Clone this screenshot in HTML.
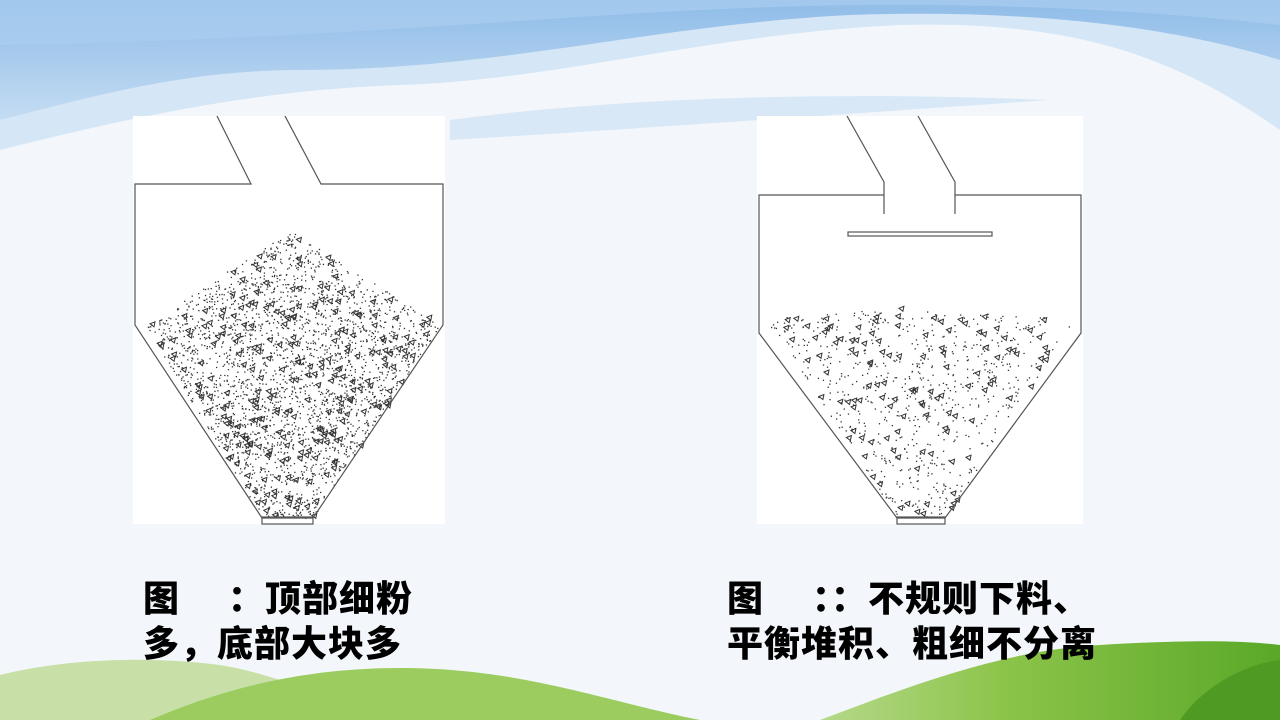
<!DOCTYPE html>
<html><head><meta charset="utf-8">
<style>
html,body{margin:0;padding:0;}
body{width:1280px;height:720px;overflow:hidden;position:relative;background:#f4f8fc;font-family:"Liberation Sans","Noto Sans CJK SC",sans-serif;}
svg{position:absolute;left:0;top:0;}
.t{position:absolute;font-family:"Liberation Sans","Noto Sans CJK SC",sans-serif;font-weight:900;font-size:36px;color:#000;line-height:45px;letter-spacing:1px;white-space:nowrap;}
</style></head><body>
<svg width="1280" height="720" viewBox="0 0 1280 720" id="s">
<defs>
<linearGradient id="bl" x1="0" y1="0" x2="0" y2="1">
<stop offset="0" stop-color="#8fbce8"/><stop offset="1" stop-color="#c4dcf2"/></linearGradient>
<linearGradient id="gr" x1="0" y1="0" x2="1" y2="0">
<stop offset="0" stop-color="#b5d98a"/><stop offset="0.4" stop-color="#8cc44a"/><stop offset="1" stop-color="#5aa828"/></linearGradient>
</defs>
<rect width="1280" height="720" fill="#f3f7fb"/>
<path d="M0 0H1280V130C1180 60 1080 20 900 25C700 35 560 80 400 85C250 90 120 120 0 150Z" fill="#d5e6f6"/>
<path d="M0 0H1280V60C1150 20 1000 10 850 15C650 25 500 70 300 70C180 70 80 100 0 120Z" fill="url(#bl)"/>
<path d="M0 0H1280V25C1100 5 900 0 700 10C500 20 300 40 0 45Z" fill="#a9cdef" opacity="0.7"/>
<path d="M450 120C600 100 800 90 1050 100C900 110 700 125 450 140Z" fill="#d2e4f6" opacity="0.8"/>
<path d="M0 675C60 660 140 655 220 665C280 675 330 700 400 720H0Z" fill="#c8e0a8"/>
<path d="M150 720C220 690 300 668 400 668C520 668 600 700 700 720Z" fill="#9ccc60"/>
<path d="M820 720C900 690 1000 650 1100 645C1180 640 1240 640 1280 645V720Z" fill="url(#gr)"/>
<path d="M1180 720C1200 690 1240 665 1280 660V720Z" fill="#4e9a22"/>
<rect x="133" y="116" width="312" height="408" fill="#fff"/>
<rect x="757" y="116" width="326" height="408" fill="#fff"/>
<g id="p1"></g><g id="p2"></g>
<g fill="none" stroke="#555" stroke-width="1.2">
<path d="M217 116L251 184H135V325L262 518H313L443 325V184H321L285 116"/>
<rect x="262" y="517" width="51" height="7"/>
<path d="M847 116L884 182V214M918 116L955 182V214"/>
<path d="M884 195H759V333L897 518H945L1081 333V195H955"/>
<rect x="848" y="232" width="144" height="4"/>
<rect x="897" y="517" width="48" height="7"/>
</g>
</svg>
<div class="t" style="left:143px;top:576px;">图　 ：顶部细粉<br>多，底部大块多</div>
<div class="t" style="left:727px;top:576px;">图　 ：：不规则下料、<br>平衡堆积、粗细不分离</div>
<script>
var seed=7;function r(){seed=(seed*16807)%2147483647;return seed/2147483647;}
function inside(poly,x,y){var c=false;for(var i=0,j=poly.length-1;i<poly.length;j=i++){var a=poly[i],b=poly[j];if(((a[1]>y)!=(b[1]>y))&&(x<(b[0]-a[0])*(y-a[1])/(b[1]-a[1])+a[0]))c=!c;}return c;}
function fill(id,poly,n,big,bx){var g=document.getElementById(id),s="";var xs=poly.map(p=>p[0]),ys=poly.map(p=>p[1]);var x0=Math.min(...xs),x1=Math.max(...xs),y0=Math.min(...ys),y1=Math.max(...ys);
var k=0;while(k<n){var x=x0+r()*(x1-x0),y=y0+r()*(y1-y0);if(!inside(poly,x,y))continue;k++;s+='<rect x="'+x.toFixed(1)+'" y="'+y.toFixed(1)+'" width="1.3" height="1.3" fill="#333"/>';}
k=0;while(k<big){var x=x0+r()*(x1-x0),y=y0+r()*(y1-y0);if(!inside(poly,x,y))continue;if(bx&&r()<(y1-y)/(y1-y0)*0.6)continue;k++;s+='<path d="M'+x.toFixed(1)+' '+y.toFixed(1)+'l5 -2l-1 5z" fill="none" stroke="#333" stroke-width="1"/>';}
g.innerHTML=s;}
fill("p1",[[290,230],[440,325],[313,518],[262,518],[145,325]],2600,260,true);
fill("p2",[[765,318],[900,308],[1075,318],[945,518],[897,518]],700,120,false);
</script>
</body></html>
